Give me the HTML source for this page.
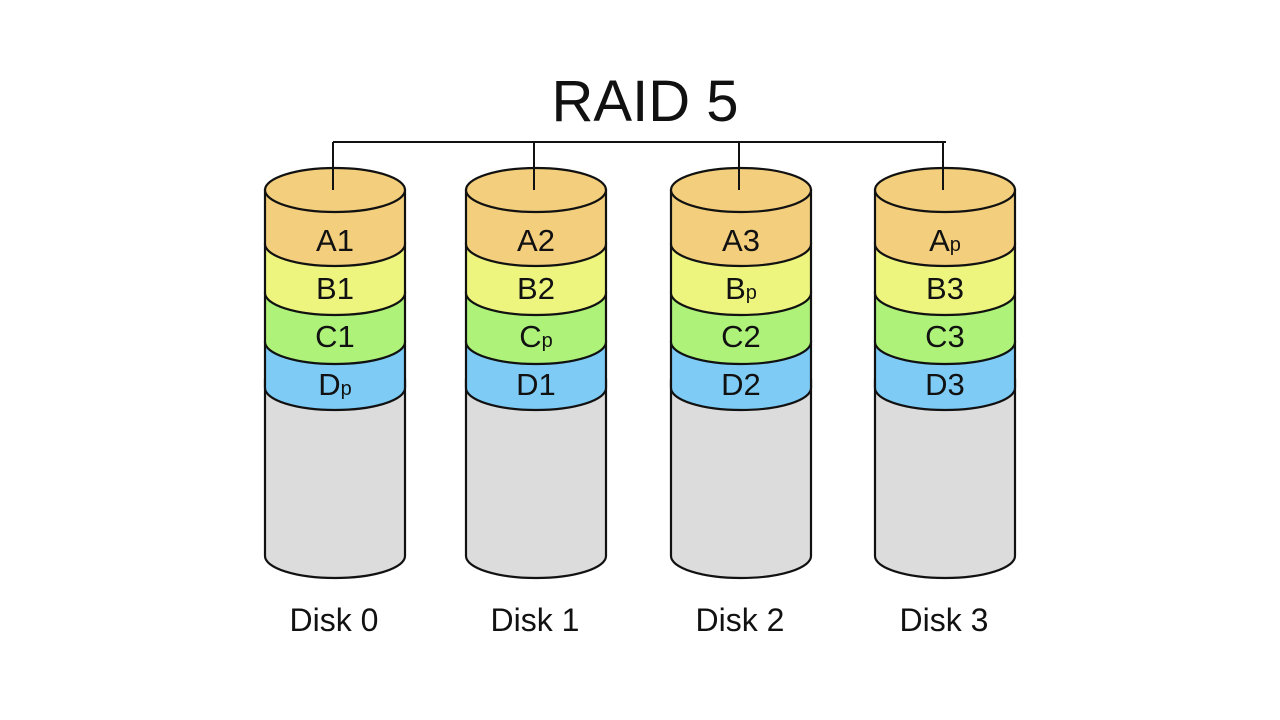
<!DOCTYPE html>
<html><head><meta charset="utf-8"><style>
html,body{margin:0;padding:0;background:#fff;}
svg{display:block}
text{font-family:"Liberation Sans",Arial,sans-serif;fill:#111}
</style></head><body>
<svg width="1280" height="720" viewBox="0 0 1280 720" xmlns="http://www.w3.org/2000/svg">
<text x="645" y="121" font-size="58" text-anchor="middle">RAID 5</text>
<line x1="333" y1="142" x2="946" y2="142" stroke="#111" stroke-width="2"/>
</svg>
<script>
var svg=document.querySelector('svg');
var NS='http://www.w3.org/2000/svg';
var disks=[{l:265,labels:['A1','B1','C1','Dp']},{l:466,labels:['A2','B2','Cp','D1']},{l:671,labels:['A3','Bp','C2','D2']},{l:875,labels:['Ap','B3','C3','D3']}];
var rx=70,ry=22;
var cols=['#f3cf7d','#eef57f','#aef27a','#7ecbf5'];
var edges=[190,244,293,342,388];
function band(l,top,bot,fill){
 var r=l+2*rx;
 var p=document.createElementNS(NS,'path');
 p.setAttribute('d','M'+l+','+top+' L'+l+','+bot+' A'+rx+','+ry+' 0 0 0 '+r+','+bot+' L'+r+','+top+' Z');
 p.setAttribute('fill',fill);p.setAttribute('stroke','#111');p.setAttribute('stroke-width','2.2');
 svg.appendChild(p);
}
disks.forEach(function(d,i){
 var l=d.l,cx=l+rx;
 band(l,380,556,'#dcdcdc');
 for(var k=3;k>=0;k--){band(l,edges[k],edges[k+1],cols[k]);}
 var e=document.createElementNS(NS,'ellipse');
 e.setAttribute('cx',cx);e.setAttribute('cy',190);e.setAttribute('rx',rx);e.setAttribute('ry',ry);
 e.setAttribute('fill',cols[0]);e.setAttribute('stroke','#111');e.setAttribute('stroke-width','2.2');
 svg.appendChild(e);
 var ln=document.createElementNS(NS,'line');
 ln.setAttribute('x1',cx-2);ln.setAttribute('x2',cx-2);ln.setAttribute('y1',142);ln.setAttribute('y2',190);
 ln.setAttribute('stroke','#111');ln.setAttribute('stroke-width','2');svg.appendChild(ln);
 var ys=[251,299,347,395];
 d.labels.forEach(function(t,k){
  var tx=document.createElementNS(NS,'text');
  tx.setAttribute('x',cx);tx.setAttribute('y',ys[k]);tx.setAttribute('font-size','31');tx.setAttribute('text-anchor','middle');
  if(t[1]=='p'){
   var a=document.createElementNS(NS,'tspan');a.textContent=t[0];tx.appendChild(a);
   var b=document.createElementNS(NS,'tspan');b.textContent='p';b.setAttribute('font-size','20');tx.appendChild(b);
  } else tx.textContent=t;
  svg.appendChild(tx);
 });
 var dl=document.createElementNS(NS,'text');
 dl.setAttribute('x',cx-1);dl.setAttribute('y',631);dl.setAttribute('font-size','32');dl.setAttribute('text-anchor','middle');
 dl.textContent='Disk '+i;svg.appendChild(dl);
});
</script>
</body></html>
